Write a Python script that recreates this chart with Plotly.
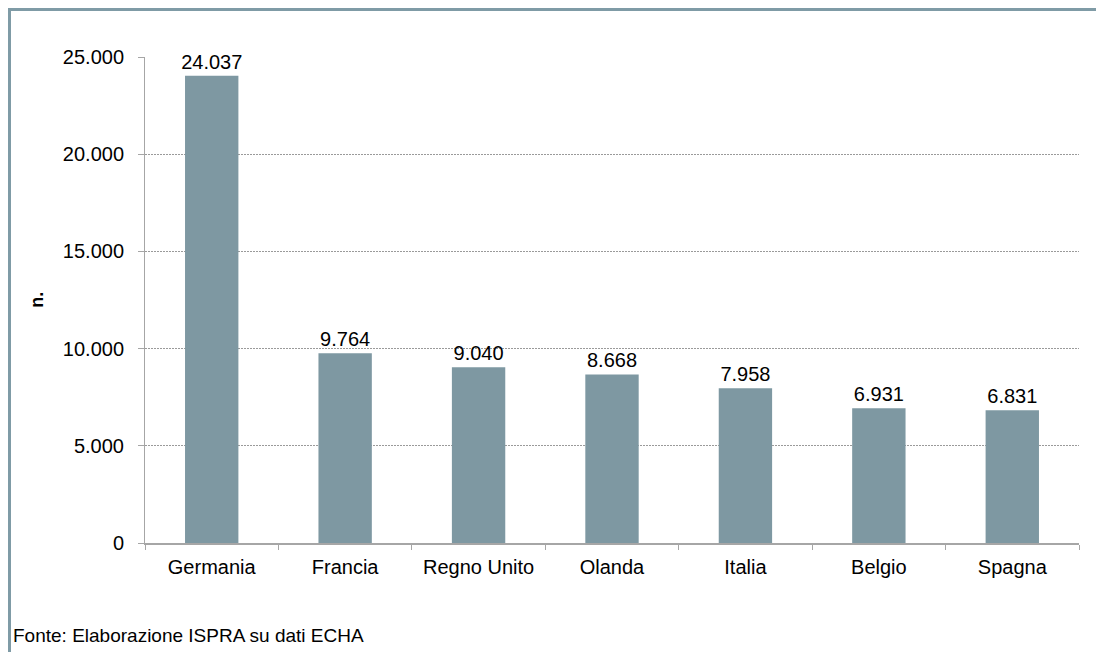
import plotly.graph_objects as go

# Data
paesi = ["Germania", "Francia", "Regno Unito", "Olanda", "Italia", "Belgio", "Spagna"]
registrazioni = [24037, 9764, 9040, 8668, 7958, 6931, 6831]
y_ticks = [0, 5000, 10000, 15000, 20000, 25000]

# Page geometry (pixels)
W, H = 1096, 652
ML, MR, MT, MB = 145, 17, 57, 108.5
PW = W - ML - MR
PH = H - MT - MB


def px_x(px):
    return (px - ML) / PW


def px_y(py):
    return (H - MB - py) / PH


FONT = "Liberation Sans, Arial, sans-serif"
BAR = "#7e98a2"
FRAME = "#7f9ba6"
AXIS = "#a6a6a6"

fig = go.Figure(
    go.Bar(
        x=paesi,
        y=registrazioni,
        marker=dict(color=BAR, line=dict(width=0)),
        text=registrazioni,
        texttemplate="%{y:,}",
        textposition="outside",
        constraintext="none",
        textfont=dict(family=FONT, size=20, color="#000000"),
        cliponaxis=False,
        hoverinfo="skip",
    )
)

fig.update_layout(
    width=W,
    height=H,
    margin=dict(l=ML, r=MR, t=MT, b=MB, pad=0),
    paper_bgcolor="white",
    plot_bgcolor="white",
    separators=",.",
    bargap=0.6,
    showlegend=False,
    font=dict(family=FONT, size=20, color="#000000"),
    xaxis=dict(
        showline=True,
        linecolor=AXIS,
        linewidth=1.5,
        ticks="outside",
        tickson="boundaries",
        ticklen=5,
        tickcolor=AXIS,
        ticklabelstandoff=5,
        tickfont=dict(family=FONT, size=20, color="#000000"),
        showgrid=False,
        zeroline=False,
        fixedrange=True,
    ),
    yaxis=dict(
        range=[0, 25000],
        tickvals=y_ticks,
        tickformat=",",
        showline=True,
        linecolor=AXIS,
        linewidth=1,
        ticks="outside",
        ticklen=6,
        tickcolor=AXIS,
        ticklabelstandoff=10,
        tickfont=dict(family=FONT, size=20, color="#000000"),
        showgrid=True,
        gridcolor="#9a9a9a",
        gridwidth=1,
        griddash="2px,1px",
        zeroline=False,
        fixedrange=True,
    ),
    annotations=[
        dict(
            text="<b>n.</b>",
            xref="paper",
            yref="paper",
            x=px_x(37),
            y=px_y(300),
            xanchor="center",
            yanchor="middle",
            textangle=-90,
            showarrow=False,
            font=dict(family=FONT, size=18, color="#000000"),
        ),
        dict(
            text="Fonte: Elaborazione ISPRA su dati ECHA",
            xref="paper",
            yref="paper",
            x=px_x(11),
            y=px_y(636),
            xanchor="left",
            yanchor="middle",
            showarrow=False,
            font=dict(family=FONT, size=19, color="#000000"),
        ),
    ],
    shapes=[
        # frame: top and left edges
        dict(
            type="line", xref="paper", yref="paper",
            x0=px_x(8), x1=px_x(W + 2), y0=px_y(9.5), y1=px_y(9.5),
            line=dict(color=FRAME, width=3),
        ),
        dict(
            type="line", xref="paper", yref="paper",
            x0=px_x(9.5), x1=px_x(9.5), y0=px_y(8), y1=px_y(H + 2),
            line=dict(color=FRAME, width=3),
        ),
    ],
)

fig.write_html("out.html")
